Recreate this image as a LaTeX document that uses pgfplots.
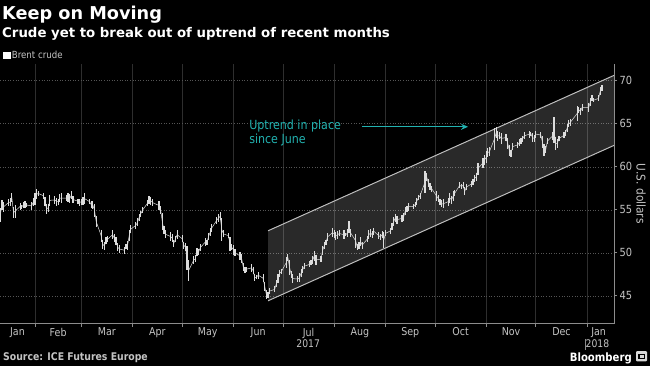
\documentclass[border=0pt]{standalone}
\usepackage{fontspec}
\setmainfont{DejaVu Sans}
\newfontfamily\nf{DejaVu Sans}[FakeStretch=0.88]
\usepackage{pgfplots}
\usepackage{pgfplotstable}
\usetikzlibrary{arrows.meta}
\pgfplotsset{compat=1.18}
\definecolor{tickc}{HTML}{C4C4C4}
\definecolor{axisc}{HTML}{8C8C8C}
\definecolor{gridv}{HTML}{2E2E2E}
\definecolor{gridh}{HTML}{555555}
\definecolor{barc}{HTML}{DCDCDC}
\definecolor{chanc}{HTML}{BEBEBE}
\definecolor{teal}{HTML}{22B2B0}
\pgfplotstableread{
d lo hi
10 53.6 55.2
11 55.0 56.1
12 54.8 55.9
15 55.5 56.2
16 55.4 56.4
17 55.9 56.9
18 54.0 55.3
19 54.1 55.6
22 55.0 55.8
23 55.1 55.6
24 55.2 55.9
25 55.2 56.0
26 55.3 55.8
29 55.0 55.9
30 55.5 56.4
31 55.6 56.9
32 56.2 57.4
33 56.6 57.2
36 56.3 57.0
37 55.4 56.5
38 54.5 55.7
39 54.8 55.7
40 55.5 56.7
43 55.7 56.6
44 55.5 56.4
45 55.6 56.3
46 55.9 56.8
47 55.8 56.9
50 56.0 56.7
51 55.9 56.9
52 55.8 56.8
53 56.2 57.2
54 55.8 56.6
57 55.7 56.3
58 55.5 56.2
59 55.6 56.3
60 55.6 56.5
61 55.7 56.9
64 55.7 56.2
65 55.2 56.0
66 55.1 56.0
67 54.2 55.7
68 53.0 54.3
71 51.3 52.7
72 50.5 51.5
73 50.3 51.3
74 51.0 51.8
75 51.2 52.0
78 51.6 52.6
79 51.2 52.2
80 50.9 51.8
81 50.2 51.1
82 50.0 50.9
85 49.9 50.7
86 50.4 51.0
87 50.3 51.4
88 51.4 52.6
89 52.3 53.2
92 52.8 53.6
93 53.1 54.0
94 53.7 54.5
95 54.2 54.9
96 54.6 55.3
99 55.4 56.1
100 55.7 56.6
101 55.6 56.5
102 55.5 56.2
106 55.0 56.0
107 54.5 55.5
108 52.7 54.6
109 52.2 53.1
110 51.7 52.6
113 51.4 52.4
114 51.2 52.2
115 50.7 51.5
116 51.3 52.0
117 51.6 52.6
120 51.2 52.1
121 50.5 51.3
122 50.2 51.1
123 48.0 50.8
124 46.7 49.2
127 48.7 49.6
128 48.9 49.7
129 49.6 50.6
130 49.8 50.4
131 50.2 51.0
134 50.8 51.7
135 50.9 51.5
136 51.5 52.3
137 51.9 52.9
138 52.4 53.4
141 53.4 54.2
142 53.6 54.5
143 53.8 54.7
144 51.4 54.0
145 51.8 52.6
148 51.7 52.3
149 50.2 51.8
150 50.3 51.0
151 49.8 50.9
152 49.6 50.4
155 49.2 50.1
156 48.8 49.9
157 47.9 48.8
158 47.6 48.3
159 47.8 48.4
162 47.8 48.7
163 47.5 48.3
164 46.7 47.5
165 46.9 47.4
166 47.0 47.8
169 46.6 47.5
170 45.6 46.6
171 44.6 45.7
172 44.8 45.5
173 45.2 45.9
176 45.4 46.1
177 46.0 46.8
178 46.5 47.5
179 47.2 48.0
180 47.5 48.1
183 48.2 49.5
184 49.0 49.9
185 47.4 49.2
186 47.1 47.9
187 46.5 47.5
190 46.6 47.3
191 46.6 47.6
192 47.2 48.1
193 47.6 48.5
194 48.1 48.8
197 48.3 49.0
198 48.6 49.2
199 48.7 49.6
200 49.1 50.2
201 48.6 49.8
204 48.9 49.6
205 49.8 50.8
206 50.4 51.2
207 50.9 51.5
208 51.4 52.3
211 51.8 52.9
212 51.7 52.7
213 51.5 52.4
214 51.6 52.5
215 51.9 52.6
218 51.6 52.6
219 51.9 52.3
220 51.8 52.8
221 52.3 53.7
222 51.8 52.8
225 50.6 52.2
226 50.3 51.0
227 50.4 51.2
228 50.8 51.8
229 50.5 51.3
232 51.2 52.0
233 51.6 52.6
234 51.8 52.8
235 51.7 52.5
236 52.1 52.9
239 51.6 52.4
240 51.5 52.2
241 51.7 52.5
242 50.6 52.4
243 51.9 52.6
246 52.2 52.9
247 52.7 53.5
248 53.1 54.2
249 53.6 54.5
250 53.4 54.3
253 53.6 54.4
254 53.7 54.6
255 54.4 55.3
256 54.8 55.5
257 54.9 55.8
260 55.1 55.7
261 55.3 55.9
262 55.6 56.4
263 56.1 56.7
264 56.3 57.0
267 57.0 59.5
268 58.3 59.3
269 57.6 58.6
270 57.3 58.1
271 57.1 57.8
274 56.0 57.2
275 55.9 56.7
276 55.6 56.3
277 55.3 56.1
278 55.2 56.2
281 55.5 56.4
282 55.8 56.9
283 55.7 56.6
284 56.0 57.2
285 56.6 57.3
288 57.5 58.2
289 57.4 58.0
290 57.5 58.2
291 56.7 57.6
292 57.3 58.0
295 57.6 58.4
296 57.9 58.6
297 58.2 59.1
298 58.4 59.3
299 59.1 60.5
302 59.9 61.0
303 60.2 61.4
304 60.4 61.8
305 61.1 62.2
306 61.3 62.3
309 62.0 64.5
310 63.3 64.6
311 63.0 64.2
312 63.2 64.0
313 62.7 63.9
316 63.0 63.8
317 62.1 63.3
318 61.3 62.5
319 61.1 62.0
320 61.9 62.8
323 62.2 62.9
324 62.4 63.2
325 62.6 63.4
326 62.9 63.6
327 63.2 64.0
330 63.4 64.2
331 63.6 64.1
332 62.9 63.9
333 62.9 63.7
334 63.4 64.2
337 63.3 64.1
338 62.2 63.6
339 61.3 62.6
340 61.6 62.4
341 62.6 63.4
344 63.1 64.0
345 62.8 65.8
346 62.0 63.5
347 62.2 63.2
348 63.0 63.6
351 63.3 64.0
352 63.6 64.3
353 64.1 65.0
354 64.6 65.4
355 64.8 65.6
359 65.3 67.1
360 66.3 67.0
361 66.0 66.8
362 66.5 67.3
366 66.4 67.4
367 67.1 68.0
368 67.6 68.3
369 67.5 68.0
372 67.6 68.3
373 68.4 69.3
374 68.8 69.5
}\brent
\begin{document}
\begin{tikzpicture}[x=1pt,y=1pt]
\fill[black] (0,0) rectangle (650,366);
\useasboundingbox (0,0) rectangle (650,366);
\node[anchor=base west, inner sep=0, text=white, font=\bfseries\fontsize{17.7}{20}\selectfont] at (2,346.5) {Keep on Moving};
\node[anchor=base west, inner sep=0, text=white, font=\bfseries\fontsize{13.3}{15}\selectfont] at (2,328.3) {Crude yet to break out of uptrend of recent months};
\node[anchor=base west, inner sep=0, text=tickc, font=\nf\bfseries\fontsize{10.6}{12}\selectfont] at (3,5.2) {Source: ICE Futures Europe};
\node[anchor=base east, inner sep=0, text=white, font=\nf\bfseries\fontsize{11.5}{13}\selectfont] at (632,4.6) {Bloomberg};
\fill[white!85!black, rounded corners=1pt] (636,4.6) rectangle (647,14.8);
\fill[black] (638,7) rectangle (645,11.5);
\fill[white!85!black] (639.5,8) rectangle (643.5,10.5);
\begin{axis}[
  at={(0,49)}, anchor=south west, scale only axis,
  width=614pt, height=260pt,
  xmin=9.82, xmax=381.3, ymin=41.74, ymax=71.97,
  axis x line*=bottom, axis y line*=right,
  axis line style={-, color=axisc, line width=0.8pt},
  tick style={color=axisc, line width=0.8pt},
  major tick length=3pt, tick align=outside,
  xtick={31,59,90,120,151,181,212,243,273,304,334,365},
  xticklabels={},
  extra x ticks={20.4,45,74.5,105,135.5,166,196.5,227.5,258,288.5,319,349.5,372},
  extra x tick labels={Jan,Feb,Mar,Apr,May,Jun,Jul,Aug,Sep,Oct,Nov,Dec,Jan},
  extra x tick style={grid=none, major tick length=0pt},
  xticklabel style={text=tickc, font=\nf\fontsize{10.8}{13}\selectfont, yshift=-0.5pt},
  ytick={45,50,55,60,65,70},
  yticklabel style={text=tickc, font=\nf\fontsize{11.2}{13}\selectfont, xshift=-1pt},
  /pgf/number format/assume math mode=true,
  xmajorgrids, ymajorgrids,
  every axis x grid/.style={color=gridv, line width=0.8pt},
  every axis y grid/.style={color=gridh, line width=0.6pt, dotted},
  legend style={draw=none, fill=none, text=tickc, font=\nf\fontsize{9.8}{11}\selectfont,
    at={(rel axis cs:0,1)}, anchor=south west, inner sep=0pt, outer sep=0pt, xshift=3pt, yshift=2pt},
  clip mode=individual,
]
\addplot[fill=white, fill opacity=0.16, draw=none, forget plot]
  coordinates {(172.0,44.42) (381.3,62.49) (381.3,70.63) (172.0,52.56)} -- cycle;
\addplot[chanc, line width=1pt, forget plot] coordinates {(172.0,44.42) (381.3,62.49)};
\addplot[chanc, line width=1pt, forget plot] coordinates {(172.0,52.56) (381.3,70.63)};
\addplot[barc, line width=0.5pt, forget plot,
  error bars/.cd, y dir=both, y explicit,
  error bar style={barc, line width=1.2pt}, error mark=none]
  table[x=d, y expr={(\thisrow{lo}+\thisrow{hi})/2}, y error expr={(\thisrow{hi}-\thisrow{lo})/2}] {\brent};
\addlegendimage{legend image code/.code={\fill[white] (0pt,-3pt) rectangle (6.5pt,3.5pt);}}
\addlegendentry{Brent crude}
\node[anchor=base west, inner sep=0, text=teal, font=\nf\fontsize{12.6}{14}\selectfont] at (axis cs:160.5,64.38) {Uptrend in place};
\node[anchor=base west, inner sep=0, text=teal, font=\nf\fontsize{12.6}{14}\selectfont] at (axis cs:160.5,62.71) {since June};
\draw[teal, line width=1.3pt, -{Stealth[length=7pt,width=6pt]}] (axis cs:228.9,64.65) -- (axis cs:293.0,64.65);
\node[anchor=base, inner sep=0, text=tickc, font=\nf\fontsize{10.5}{12}\selectfont, yshift=-24pt] at (axis cs:196.3,41.74) {2017};
\node[anchor=base, inner sep=0, text=tickc, font=\nf\fontsize{10.5}{12}\selectfont, yshift=-24pt] at (axis cs:371.3,41.74) {2018};
\draw[axisc, line width=0.8pt] ([yshift=-15pt]axis cs:364,41.74) -- ([yshift=-26pt]axis cs:364,41.74);
\node[rotate=-90, inner sep=0, text=tickc, font=\nf\fontsize{12}{13}\selectfont] at ([xshift=27pt]axis cs:381.3,56.86) {U.S. dollars};
\end{axis}
\end{tikzpicture}
\end{document}
